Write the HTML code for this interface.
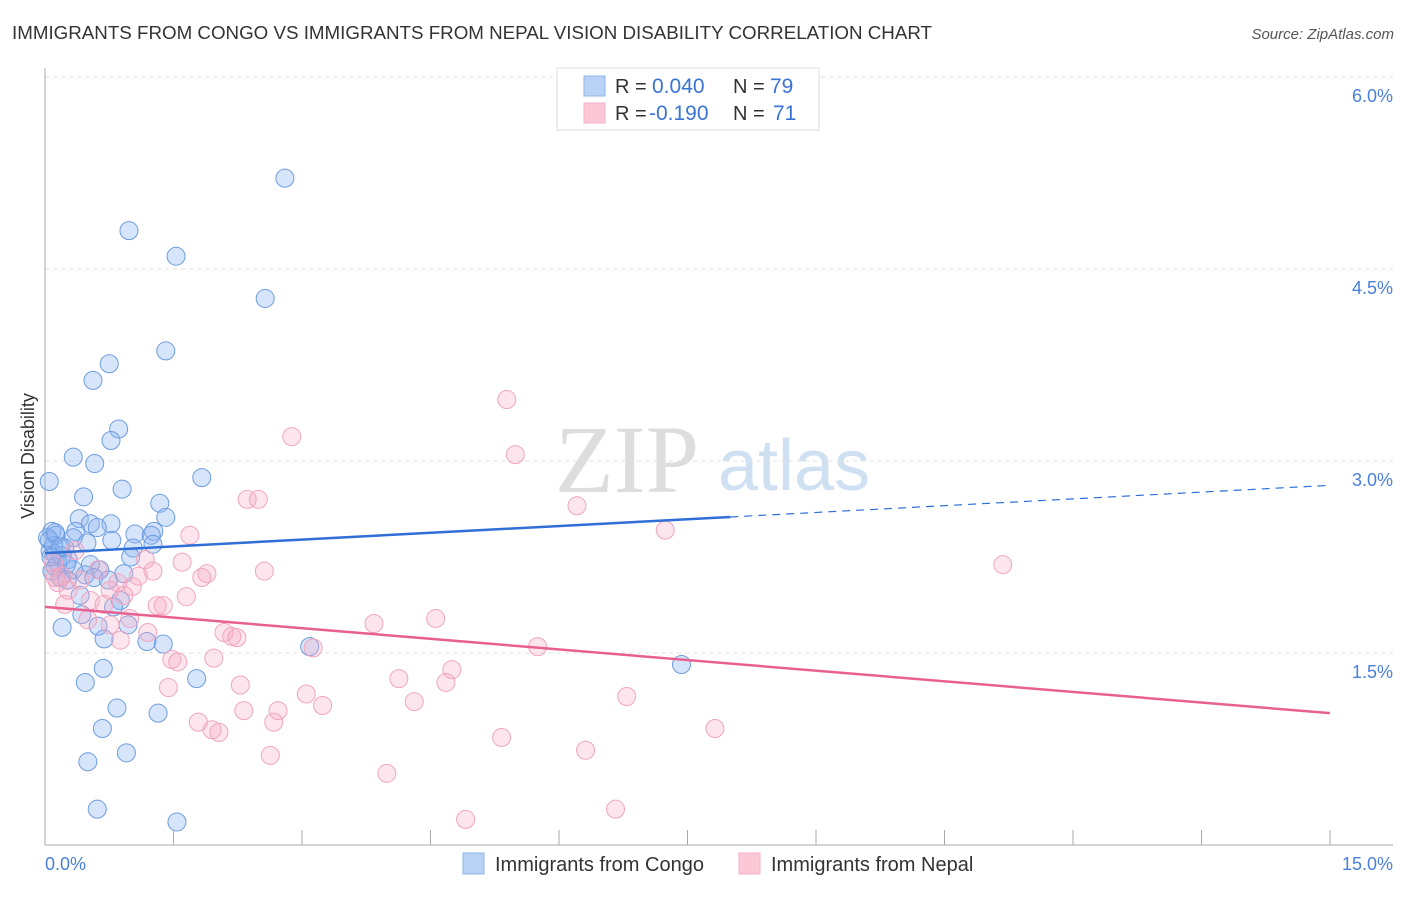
<!DOCTYPE html>
<html><head><meta charset="utf-8"><style>
body{margin:0;background:#fff;width:1406px;height:892px;overflow:hidden;font-family:"Liberation Sans",sans-serif}
</style></head><body>
<svg id="chart" width="1406" height="892" xmlns="http://www.w3.org/2000/svg" font-family="Liberation Sans, sans-serif">
<text x="12" y="39" font-size="18" fill="#333" textLength="920" lengthAdjust="spacingAndGlyphs">IMMIGRANTS FROM CONGO VS IMMIGRANTS FROM NEPAL VISION DISABILITY CORRELATION CHART</text>
<text x="1394" y="39" font-size="15" fill="#555" font-style="italic" text-anchor="end">Source: ZipAtlas.com</text>
<text transform="translate(34,456) rotate(-90)" font-size="18" fill="#333" text-anchor="middle">Vision Disability</text>
<g>
<text x="555" y="492" font-size="96" font-family="Liberation Serif, serif" fill="#ddd">ZIP</text>
<text x="718" y="490" font-size="72" fill="#cfe0f3">atlas</text>
</g>
<g id="grid"></g>
<g id="marks"></g>
<g>
<rect x="557" y="68" width="262" height="62" fill="#fff" stroke="#ddd"/>
<rect x="584" y="76" width="21" height="20" fill="#b8d2f5" stroke="#8fb5ea"/>
<rect x="584" y="103" width="21" height="20" fill="#fcc8d7" stroke="#f3b0c5"/>
<text x="615" y="93" font-size="20" fill="#333">R =</text>
<text x="652" y="93" font-size="21" fill="#3a73d6">0.040</text>
<text x="733" y="93" font-size="20" fill="#333">N =</text>
<text x="770" y="93" font-size="21" fill="#3a73d6">79</text>
<text x="615" y="120" font-size="20" fill="#333">R =</text>
<text x="649" y="120" font-size="21" fill="#3a73d6">-0.190</text>
<text x="733" y="120" font-size="20" fill="#333">N =</text>
<text x="773" y="120" font-size="21" fill="#3a73d6">71</text>
</g>
<g>
<rect x="463" y="853" width="21" height="21" fill="#b8d2f5" stroke="#8fb5ea"/>
<text x="495" y="871" font-size="20" fill="#333">Immigrants from Congo</text>
<rect x="739" y="853" width="21" height="21" fill="#fcc8d7" stroke="#f3b0c5"/>
<text x="771" y="871" font-size="20" fill="#333">Immigrants from Nepal</text>
</g>
</svg>
<script>
const yTicks=[1.5,3.0,4.5,6.0];
const xTickVals=[0,1.5,3,4.5,6,7.5,9,10.5,12,13.5,15];
const congoX=[2.80,0.98,1.53,2.57,1.41,0.75,0.56,0.86,0.77,0.33,0.58,0.05,1.83,0.90,0.45,1.34,1.41,0.40,0.77,0.53,0.61,1.27,0.36,1.05,0.08,0.13,0.33,1.24,0.78,0.49,1.26,1.03,0.23,0.06,0.12,1.00,0.27,0.53,0.12,0.33,0.64,0.92,0.47,0.18,0.57,0.26,0.74,0.41,0.88,0.80,0.43,0.20,0.97,0.62,0.69,1.19,1.38,3.09,0.68,7.43,0.47,1.77,0.84,1.32,0.67,0.95,0.50,0.61,1.54,0.05,0.10,0.15,0.08,0.20,0.03,0.12,0.25,0.18,0.07];
const congoY=[5.21,4.80,4.60,4.27,3.86,3.76,3.63,3.25,3.16,3.03,2.98,2.84,2.87,2.78,2.72,2.67,2.56,2.55,2.51,2.51,2.48,2.45,2.45,2.43,2.45,2.42,2.40,2.42,2.38,2.36,2.35,2.32,2.32,2.30,2.27,2.25,2.23,2.19,2.17,2.15,2.15,2.12,2.11,2.09,2.09,2.07,2.07,1.95,1.91,1.86,1.80,1.70,1.72,1.71,1.61,1.59,1.57,1.55,1.38,1.41,1.27,1.30,1.07,1.03,0.91,0.72,0.65,0.28,0.18,2.38,2.34,2.20,2.14,2.26,2.40,2.44,2.19,2.33,2.25];
const nepalX=[5.39,2.88,5.49,2.49,2.36,6.21,7.24,1.69,11.18,1.17,1.60,2.56,1.26,1.89,0.62,1.09,1.83,0.12,0.41,0.85,1.02,0.76,0.27,1.65,0.92,0.53,0.23,1.31,1.38,0.69,0.99,4.56,0.50,3.84,0.76,1.20,2.09,2.18,2.24,0.88,3.13,5.75,1.48,1.55,1.97,4.75,4.13,4.68,1.44,2.28,3.05,6.79,4.31,3.24,2.32,2.72,1.79,2.67,1.95,2.03,7.82,5.33,6.31,2.63,3.99,6.66,4.91,0.10,0.20,0.35,0.15];
const nepalY=[3.48,3.19,3.05,2.70,2.70,2.65,2.46,2.42,2.19,2.23,2.21,2.14,2.14,2.12,2.15,2.10,2.09,2.09,2.07,2.05,2.02,1.99,1.99,1.94,1.95,1.91,1.88,1.87,1.87,1.88,1.77,1.77,1.76,1.73,1.72,1.66,1.66,1.63,1.62,1.60,1.54,1.55,1.45,1.43,1.46,1.37,1.30,1.27,1.23,1.25,1.18,1.16,1.12,1.09,1.05,1.05,0.96,0.96,0.90,0.88,0.91,0.84,0.74,0.70,0.56,0.28,0.20,2.20,2.10,2.30,2.05];
const congoTrend=[2.28,2.81];
const nepalTrend=[1.86,1.03];
const congoSolidEnd=8.0;

const NS='http://www.w3.org/2000/svg';
const X0=45,X1=1330,Y0=845;
const sx=v=>X0+(X1-X0)*v/15;
const sy=v=>Y0-v*128;
function mk(tag,attrs,parent){const e=document.createElementNS(NS,tag);for(const k in attrs)e.setAttribute(k,attrs[k]);parent.appendChild(e);return e;}
const grid=document.getElementById('grid'),marks=document.getElementById('marks');
yTicks.forEach(v=>{
  const l=mk('line',{x1:X0,x2:1393,y1:sy(v),y2:sy(v),stroke:'#e2e2e2','stroke-dasharray':'4,4'},grid);
  
  
  const t=mk('text',{x:1393,y:sy(v)+25,'font-size':18,fill:'#4a7fd8','text-anchor':'end'},grid);
  t.textContent=v.toFixed(1)+'%';
  
  
});
const ax=mk('line',{x1:X0,x2:X0,y1:68,y2:Y0,stroke:'#aaa'},grid);


const bx=mk('line',{x1:X0,x2:1393,y1:Y0,y2:Y0,stroke:'#aaa'},grid);


xTickVals.forEach(v=>{
  const t=mk('line',{x1:sx(v),x2:sx(v),y1:830,y2:Y0,stroke:'#aaa'},grid);
  
  
});
const xl=mk('text',{x:45,y:870,'font-size':18,fill:'#4a7fd8'},grid);xl.textContent='0.0%';


const xr=mk('text',{x:1393,y:870,'font-size':18,fill:'#4a7fd8','text-anchor':'end'},grid);xr.textContent='15.0%';



congoX.forEach((x,i)=>{
  const c=mk('circle',{cx:sx(x),cy:sy(congoY[i]),r:9,fill:'rgba(140,180,240,0.35)',stroke:'#6d9ce0','stroke-width':1},marks);
  
  
});
nepalX.forEach((x,i)=>{
  const c=mk('circle',{cx:sx(x),cy:sy(nepalY[i]),r:9,fill:'rgba(248,170,195,0.3)',stroke:'#f0a5bf','stroke-width':1},marks);
  
  
});
const cy=x=>congoTrend[0]+(congoTrend[1]-congoTrend[0])*x/15;
const l1=mk('line',{x1:sx(0),y1:sy(cy(0)),x2:sx(congoSolidEnd),y2:sy(cy(congoSolidEnd)),stroke:'#2f6fd6','stroke-width':2.5},marks);


const l2=mk('line',{x1:sx(congoSolidEnd),y1:sy(cy(congoSolidEnd)),x2:sx(15),y2:sy(cy(15)),stroke:'#2f6fd6','stroke-width':1.2,'stroke-dasharray':'8,6'},marks);


const l3=mk('line',{x1:sx(0),y1:sy(nepalTrend[0]),x2:sx(15),y2:sy(nepalTrend[1]),stroke:'#e8608f','stroke-width':2.5},marks);


</script>
</body></html>
